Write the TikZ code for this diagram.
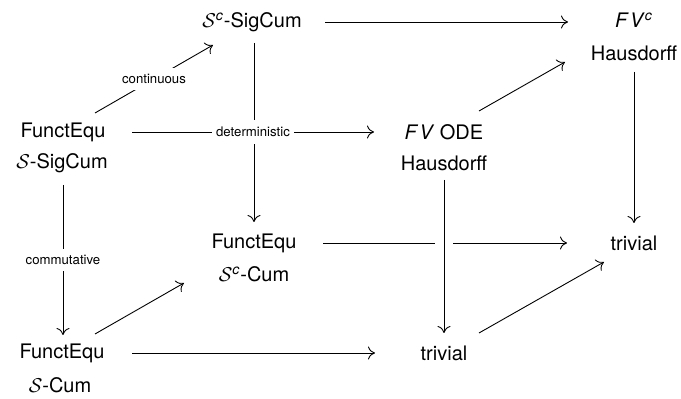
\documentclass[tikz,border=0pt]{standalone}
\usepackage{amsmath}
\usepackage{fontspec}
\setmainfont{TeX Gyre Heros}
\usetikzlibrary{calc,arrows.meta}
\newcommand{\myFV}{\textit{F\kern0.12em V}}
\tikzset{
  x=0.5pt, y=-0.5pt,
  obj/.style={inner sep=0pt, font=\fontsize{10}{12}\selectfont},
  arr/.style={line width=0.45pt, -{Computer Modern Rightarrow[length=3.5pt,width=6.5pt]}},
  lab/.style={fill=white, inner xsep=2pt, inner ysep=3.3pt, font=\fontsize{6.6}{8}\selectfont},
  over/.style={preaction={draw=white, line width=9pt, -}}
}
\begin{document}
\begin{tikzpicture}
\useasboundingbox (0,0) rectangle (681,399);
% nodes
\node[obj] (A1) at (252,22) {$\mathcal{S}^{\textit{c}}$-SigCum};
\node[obj] (B1) at (634,20) {\myFV$^{\textit{c}}$};
\node[obj] (B2) at (634,53) {Hausdorff};
\node[obj] (C1) at (63,132) {FunctEqu};
\node[obj] (C2) at (62,163) {$\mathcal{S}$-SigCum};
\node[obj] (D1) at (444,132) {\myFV{} ODE};
\node[obj] (D2) at (444,163) {Hausdorff};
\node[obj] (E1) at (254,243) {FunctEqu};
\node[obj] (E2) at (254,274) {$\mathcal{S}^{\textit{c}}$-Cum};
\node[obj] (F) at (634,243) {trivial};
\node[obj] (G1) at (62,353) {FunctEqu};
\node[obj] (G2) at (60,385) {$\mathcal{S}$-Cum};
\node[obj] (H) at (444,353) {trivial};
% arrows
\draw[arr] ($(A1)+(73,0)$) -- ($(A1 -| B2)+(-66,0)$);
\draw[arr] ($(A1 -| E1)+(0,21)$) -- ($(E1)+(0,-21)$);
\draw[arr] ($(C1)+(69,0)$) -- ($(C1 -| D1)+(-70,0)$) node[lab, midway] {deterministic};
\draw[arr] ($(C1)+(32,-19)$) -- ($(A1)+(-39,23)$) node[lab, midway] {continuous};
\draw[arr] ($(D1)+(35,-21)$) -- ($(B2)+(-69,9)$);
\draw[arr] ($(B2)+(0,19)$) -- ($(F)+(0,-20)$);
\draw[arr] ($(C2)+(1,22)$) -- ($(G1)+(1,-18)$) node[lab, midway] {commutative};
\draw[arr] ($(E1)+(69,0)$) -- ($(E1 -| F)+(-67,0)$);
\draw[arr, over] ($(D2)+(0,17)$) -- ($(H)+(0,-20)$);
\draw[arr] ($(G1)+(70,0)$) -- ($(G1 -| H)+(-69,0)$);
\draw[arr] ($(G1)+(33,-19)$) -- ($(E2)+(-70,9)$);
\draw[arr] ($(H)+(35,-20)$) -- ($(F)+(-30,19)$);
\end{tikzpicture}
\end{document}
